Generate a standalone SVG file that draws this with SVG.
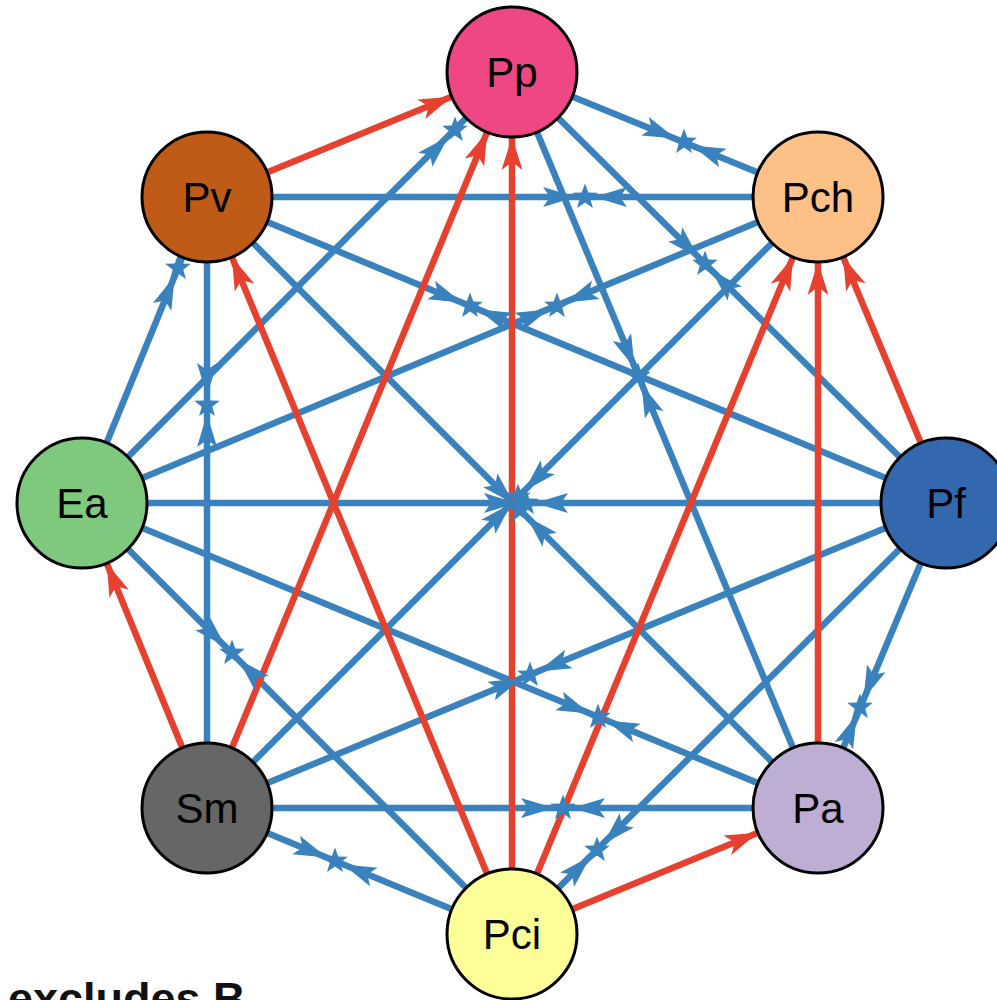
<svg xmlns="http://www.w3.org/2000/svg" xmlns:xlink="http://www.w3.org/1999/xlink" width="997" height="1000" viewBox="0 0 997 1000">
<style>
.b{stroke:#3A82BD;stroke-width:6.5;fill:none}
.r{stroke:#E6402E;stroke-width:6.5;fill:none}
.ah{stroke:none;fill:none}
.st{fill:#3A82BD}
.n{stroke:#000;stroke-width:3}
.lb{font-family:"Liberation Sans",Arial,sans-serif;font-size:42px;fill:#000;text-anchor:middle}
</style>
<defs>
<marker id="ba" markerUnits="userSpaceOnUse" orient="auto" overflow="visible" refX="0" refY="0" markerWidth="1" markerHeight="1">
<path d="M-9,0 L-42,-10 L-35,0 L-42,10 Z" fill="#3A82BD"/>
</marker>
<marker id="ra" markerUnits="userSpaceOnUse" orient="auto" overflow="visible" refX="0" refY="0" markerWidth="1" markerHeight="1">
<path d="M-65,0 L-98,-10.5 L-90,0 L-98,10.5 Z" fill="#E6402E"/>
</marker>
<polygon id="star" points="0,-13.5 3.3,-4.5 12.8,-4.2 5.3,1.7 7.9,10.9 0,5.5 -7.9,10.9 -5.3,1.7 -12.8,-4.2 -3.3,-4.5"/>
</defs>
<rect width="997" height="1000" fill="#fff"/>
<g id="connectors">
<line class="b" x1="512" y1="72" x2="818" y2="197"/>
<line class="b" x1="512" y1="72" x2="946" y2="503"/>
<line class="b" x1="512" y1="72" x2="818" y2="808"/>
<line class="b" x1="512" y1="72" x2="82" y2="503"/>
<line class="b" x1="818" y1="197" x2="207" y2="808"/>
<line class="b" x1="818" y1="197" x2="82" y2="503"/>
<line class="b" x1="818" y1="197" x2="207" y2="197"/>
<line class="b" x1="946" y1="503" x2="818" y2="808"/>
<line class="b" x1="946" y1="503" x2="512" y2="934"/>
<line class="b" x1="946" y1="503" x2="207" y2="808"/>
<line class="b" x1="946" y1="503" x2="82" y2="503"/>
<line class="b" x1="946" y1="503" x2="207" y2="197"/>
<line class="b" x1="818" y1="808" x2="207" y2="808"/>
<line class="b" x1="818" y1="808" x2="82" y2="503"/>
<line class="b" x1="818" y1="808" x2="207" y2="197"/>
<line class="b" x1="512" y1="934" x2="207" y2="808"/>
<line class="b" x1="512" y1="934" x2="82" y2="503"/>
<line class="b" x1="207" y1="808" x2="207" y2="197"/>
<line class="b" x1="82" y1="503" x2="207" y2="197"/>
<line class="r" x1="207" y1="197" x2="512" y2="72" marker-end="url(#ra)"/>
<line class="r" x1="207" y1="808" x2="512" y2="72" marker-end="url(#ra)"/>
<line class="r" x1="512" y1="934" x2="512" y2="72" marker-end="url(#ra)"/>
<line class="r" x1="512" y1="934" x2="207" y2="197" marker-end="url(#ra)"/>
<line class="r" x1="512" y1="934" x2="818" y2="197" marker-end="url(#ra)"/>
<line class="r" x1="818" y1="808" x2="818" y2="197" marker-end="url(#ra)"/>
<line class="r" x1="946" y1="503" x2="818" y2="197" marker-end="url(#ra)"/>
<line class="r" x1="207" y1="808" x2="82" y2="503" marker-end="url(#ra)"/>
<line class="r" x1="512" y1="934" x2="818" y2="808" marker-end="url(#ra)"/>
<g marker-end="url(#ba)">
<path class="ah" d="M512,72 L684,142"/><path class="ah" d="M818,197 L684,142"/>
<path class="ah" d="M512,72 L705,264"/><path class="ah" d="M946,503 L705,264"/>
<path class="ah" d="M512,72 L638,376"/><path class="ah" d="M818,808 L638,376"/>
<path class="ah" d="M512,72 L455,130"/><path class="ah" d="M82,503 L455,130"/>
<path class="ah" d="M818,197 L518,497"/><path class="ah" d="M207,808 L518,497"/>
<path class="ah" d="M818,197 L557,306"/><path class="ah" d="M82,503 L557,306"/>
<path class="ah" d="M818,197 L585,197"/><path class="ah" d="M207,197 L585,197"/>
<path class="ah" d="M946,503 L860,707"/><path class="ah" d="M818,808 L860,707"/>
<path class="ah" d="M946,503 L597,850"/><path class="ah" d="M512,934 L597,850"/>
<path class="ah" d="M946,503 L530,675"/><path class="ah" d="M207,808 L530,675"/>
<path class="ah" d="M946,503 L526,503"/><path class="ah" d="M82,503 L526,503"/>
<path class="ah" d="M946,503 L470,306"/><path class="ah" d="M207,197 L470,306"/>
<path class="ah" d="M818,808 L563,808"/><path class="ah" d="M207,808 L563,808"/>
<path class="ah" d="M818,808 L598,717"/><path class="ah" d="M82,503 L598,717"/>
<path class="ah" d="M818,808 L520,510"/><path class="ah" d="M207,197 L520,510"/>
<path class="ah" d="M512,934 L335,861"/><path class="ah" d="M207,808 L335,861"/>
<path class="ah" d="M512,934 L232,653"/><path class="ah" d="M82,503 L232,653"/>
<path class="ah" d="M207,808 L207,405"/><path class="ah" d="M207,197 L207,405"/>
<path class="ah" d="M82,503 L178,268"/><path class="ah" d="M207,197 L178,268"/>
</g>
<g class="st">
<use xlink:href="#star" x="684" y="142"/>
<use xlink:href="#star" x="705" y="264"/>
<use xlink:href="#star" x="638" y="376"/>
<use xlink:href="#star" x="455" y="130"/>
<use xlink:href="#star" x="518" y="497"/>
<use xlink:href="#star" x="557" y="306"/>
<use xlink:href="#star" x="585" y="197"/>
<use xlink:href="#star" x="860" y="707"/>
<use xlink:href="#star" x="597" y="850"/>
<use xlink:href="#star" x="530" y="675"/>
<use xlink:href="#star" x="526" y="503"/>
<use xlink:href="#star" x="470" y="306"/>
<use xlink:href="#star" x="563" y="808"/>
<use xlink:href="#star" x="598" y="717"/>
<use xlink:href="#star" x="520" y="510"/>
<use xlink:href="#star" x="335" y="861"/>
<use xlink:href="#star" x="232" y="653"/>
<use xlink:href="#star" x="207" y="405"/>
<use xlink:href="#star" x="178" y="268"/>
</g>
</g>
<g id="node-Pp"><circle class="n" cx="512" cy="72" r="65" fill="#EF4684"/><text class="lb" x="512" y="87">Pp</text></g>
<g id="node-Pch"><circle class="n" cx="818" cy="197" r="65" fill="#FDC086"/><text class="lb" x="818" y="212">Pch</text></g>
<g id="node-Pf"><circle class="n" cx="946" cy="503" r="65" fill="#3468AE"/><text class="lb" x="946" y="518">Pf</text></g>
<g id="node-Pa"><circle class="n" cx="818" cy="808" r="65" fill="#BEAED4"/><text class="lb" x="818" y="823">Pa</text></g>
<g id="node-Pci"><circle class="n" cx="512" cy="934" r="65" fill="#FFFF99"/><text class="lb" x="512" y="949">Pci</text></g>
<g id="node-Sm"><circle class="n" cx="207" cy="808" r="65" fill="#666666"/><text class="lb" x="207" y="823">Sm</text></g>
<g id="node-Ea"><circle class="n" cx="82" cy="503" r="65" fill="#7FC97F"/><text class="lb" x="82" y="518">Ea</text></g>
<g id="node-Pv"><circle class="n" cx="207" cy="197" r="65" fill="#BF5B17"/><text class="lb" x="207" y="212">Pv</text></g>
<text x="8" y="1014" font-family="'Liberation Sans',Arial,sans-serif" font-weight="bold" font-size="45" fill="#111">excludes B</text>
</svg>
